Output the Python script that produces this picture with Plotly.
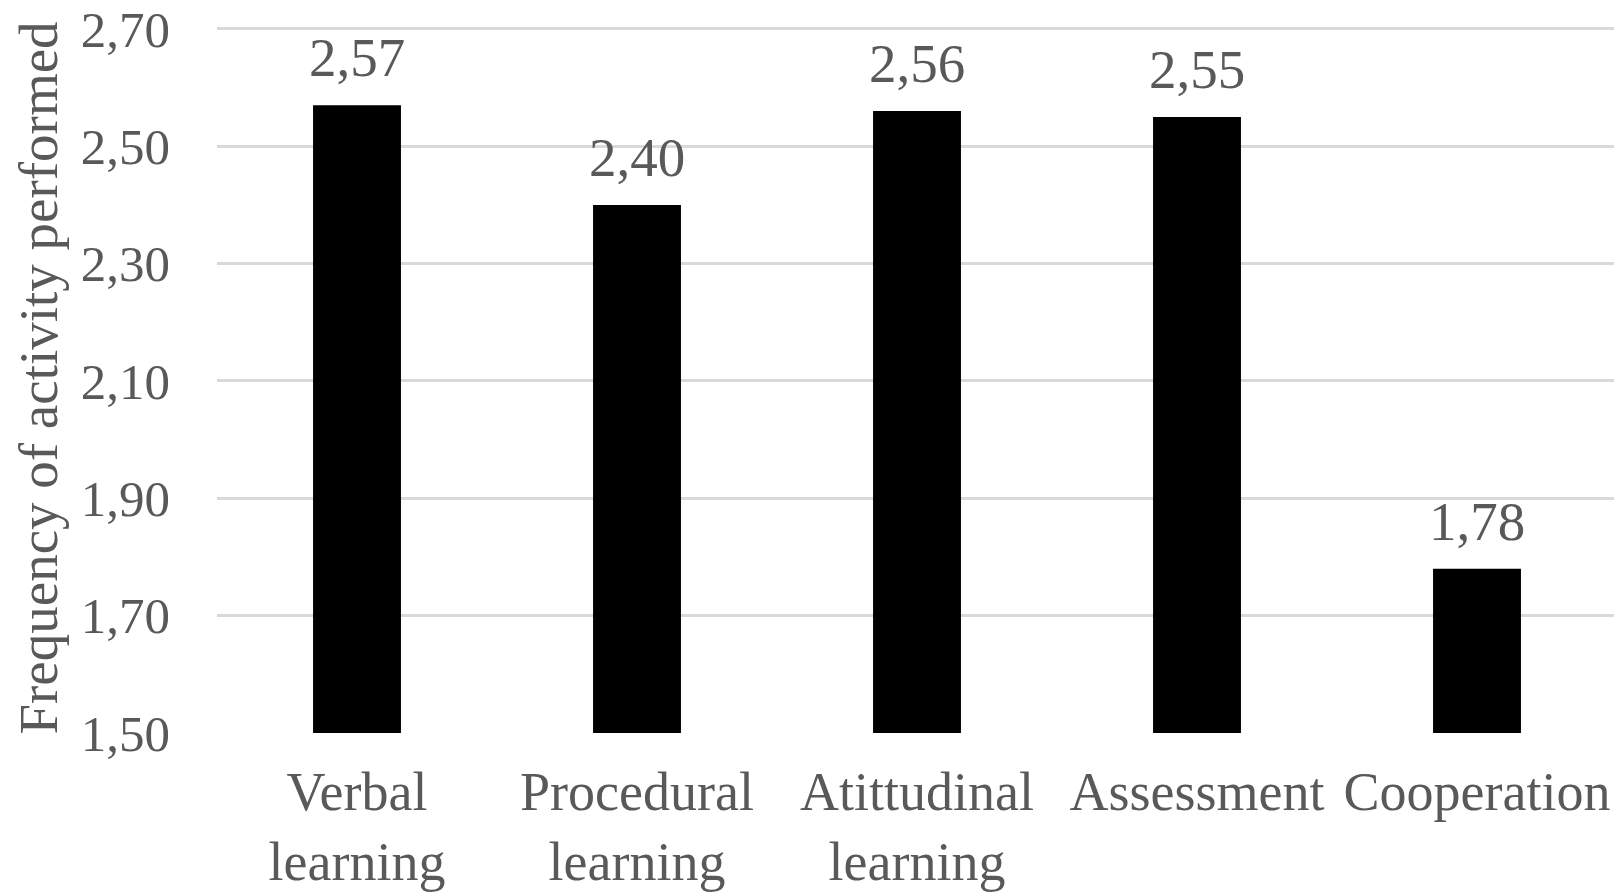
import plotly.graph_objects as go

categories = ["Verbal<br>learning", "Procedural<br>learning", "Atittudinal<br>learning", "Assessment", "Cooperation"]
values = [2.57, 2.40, 2.56, 2.55, 1.78]
y_ticks = [1.50, 1.70, 1.90, 2.10, 2.30, 2.50, 2.70]

FONT = "Liberation Serif, Times New Roman, serif"
GRAY = "#595959"

fig = go.Figure()
fig.add_trace(go.Bar(
    x=categories, y=values, marker=dict(color="#000000", line=dict(width=0)),
    width=0.314,
))

for c, v in zip(categories, values):
    fig.add_annotation(x=c, y=v, text=f"{v:.2f}".replace(".", ","), showarrow=False,
                       yanchor="bottom", yshift=15,
                       font=dict(family=FONT, size=55, color=GRAY))

# page body has an 8px default margin; compensate in figure size/margins
fig.update_layout(
    width=1614, height=886,
    margin=dict(l=209, r=5, t=15, b=161),
    paper_bgcolor="white", plot_bgcolor="white",
    separators=",.",
    showlegend=False,
    font=dict(family=FONT, size=54, color=GRAY),
)
fig.update_xaxes(
    showgrid=False, showline=False, ticks="", ticklabelstandoff=22, automargin=False,
    tickfont=dict(family=FONT, size=54, color=GRAY),
)
fig.update_yaxes(
    range=[1.5, 2.71], tickvals=y_ticks, tickformat=".2f", automargin=False,
    ticklabeloverflow="allow",
    showgrid=True, gridcolor="#d9d9d9", gridwidth=3,
    zeroline=False, showline=False, ticks="", ticklabelstandoff=46,
    tickfont=dict(family=FONT, size=51, color=GRAY),
    title=dict(text="Frequency of activity performed", standoff=22,
               font=dict(family=FONT, size=55, color=GRAY)),
)

fig.write_html("out.html")
